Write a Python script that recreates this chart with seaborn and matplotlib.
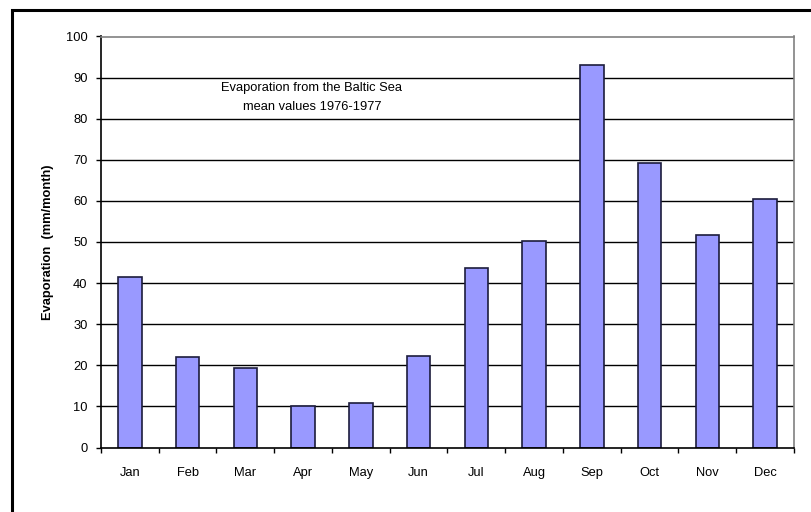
import matplotlib
matplotlib.use("Agg")
import matplotlib.pyplot as plt
import seaborn as sns
import pandas as pd
import numpy as np
from matplotlib.patches import Rectangle

months = ["Jan", "Feb", "Mar", "Apr", "May", "Jun",
          "Jul", "Aug", "Sep", "Oct", "Nov", "Dec"]
evaporation = [41.6, 21.9, 19.4, 10.2, 10.9, 22.2,
               43.7, 50.3, 93.0, 69.3, 51.6, 60.4]
y_ticks = [0, 10, 20, 30, 40, 50, 60, 70, 80, 90, 100]

sns.set_style("white")
plt.rcParams["font.family"] = ["Liberation Sans", "DejaVu Sans"]
plt.rcParams["text.color"] = "black"
plt.rcParams["axes.labelcolor"] = "black"
plt.rcParams["xtick.color"] = "black"
plt.rcParams["ytick.color"] = "black"

df = pd.DataFrame({"month": months, "evaporation": evaporation})

fig = plt.figure(figsize=(8.12, 5.12), dpi=100)
ax = fig.add_axes([101 / 812, 1 - 447.5 / 512, 693 / 812, 411 / 512])

# outer chart frame (left and top edges visible)
fig.patches.append(Rectangle((12 / 812, -0.1), 1.2, 1 - 10 / 512 + 0.1,
                             transform=fig.transFigure, fill=False,
                             edgecolor="black", linewidth=2.2, zorder=0))

for v in y_ticks[1:-1]:
    ax.axhline(v, color="black", linewidth=1.0, zorder=1)

sns.barplot(data=df, x="month", y="evaporation", order=months,
            color="#9999FF", saturation=1, width=0.41,
            edgecolor="#1c1c3c", linewidth=1.2, ax=ax, zorder=2)

ax.set_xlim(-0.5, 11.5)
ax.set_ylim(0, 100)
ax.set_yticks(y_ticks)
ax.set_yticklabels([str(v) for v in y_ticks], fontsize=9.3)
ax.set_xticks(range(12))
ax.set_xticklabels(months, fontsize=9.3)
ax.set_xticks(np.arange(-0.5, 12, 1), minor=True)
ax.tick_params(axis="x", which="major", length=0, pad=14)
ax.tick_params(axis="x", which="minor", length=3.6, width=1, color="black",
               direction="out", bottom=True)
ax.tick_params(axis="y", which="major", length=3.6, width=1, color="black",
               direction="out", left=True, pad=6)

ax.set_xlabel("")
ax.set_ylabel("Evaporation  (mm/month)", fontsize=9.3, fontweight="bold")
ax.yaxis.set_label_coords(-0.068, 0.5)

for side in ["left", "bottom"]:
    ax.spines[side].set_color("black")
    ax.spines[side].set_linewidth(1.2)
for side in ["top", "right"]:
    ax.spines[side].set_visible(True)
    ax.spines[side].set_color("#808080")
    ax.spines[side].set_linewidth(1.2)

ax.text(3.15, 85.2, "Evaporation from the Baltic Sea\nmean values 1976-1977",
        ha="center", va="center", fontsize=9.3, linespacing=1.75, zorder=3)

fig.savefig("out.png", dpi=100)
